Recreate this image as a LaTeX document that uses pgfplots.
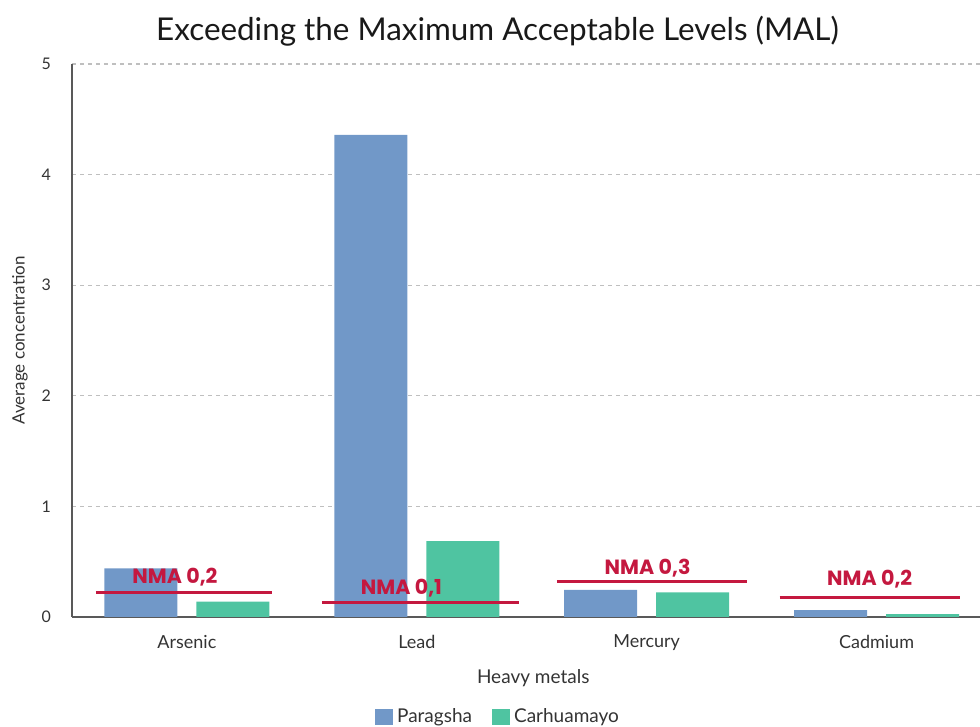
\documentclass[border=0pt]{standalone}
\usepackage{pgfplots}
\pgfplotsset{compat=1.18}
\usepackage{fontspec}
\setmainfont{Lato}
\newfontfamily\nmafont{Poppins}
\definecolor{pblue}{HTML}{7198C8}
\definecolor{cteal}{HTML}{4FC4A1}
\definecolor{nred}{HTML}{C4183F}
\begin{document}
\begin{tikzpicture}
\path[use as bounding box] (-36pt,-55pt) rectangle (454pt,308.5pt);
\begin{axis}[
  at={(0,0)}, anchor=south west,
  scale only axis, width=454pt, height=276.5pt,
  xmin=-0.5, xmax=3.45, ymin=0, ymax=5,
  xtick={0,1,2,3}, xticklabels={Arsenic,Lead,Mercury,Cadmium},
  ytick={0,1,2,3,4,5},
  axis x line*=bottom, axis y line*=left,
  axis line style={-, draw=black!65, line width=0.8pt},
  major tick length=0pt,
  ymajorgrids,
  grid style={draw=black!25, line width=0.6pt, dash pattern=on 2pt off 2pt},
  /pgf/number format/assume math mode=true,
  xticklabel style={font=\fontsize{9}{11}\selectfont, text=black!80, yshift=-5.5pt},
  yticklabel style={font=\fontsize{8}{10}\selectfont, text=black!80, xshift=-7pt},
  xlabel={Heavy metals},
  xlabel style={font=\fontsize{9.5}{11}\selectfont, text=black!80, at={(rel axis cs:0.508,0)}, anchor=center, yshift=-30.5pt},
  ylabel={Average concentration},
  ylabel style={font=\fontsize{8.5}{10}\selectfont, text=black!80, at={(rel axis cs:-0.0573,0.5)}, anchor=center},
  title={Exceeding the Maximum Acceptable Levels (MAL)},
  title style={font=\fontsize{15.7}{18}\selectfont, text=black!90, at={(rel axis cs:0.4686,1)}, anchor=center, yshift=10.5pt},
  legend columns=2,
  legend style={draw=none, fill=none, at={(rel axis cs:0.4703,0)}, anchor=center, yshift=-50pt,
    font=\fontsize{9.5}{11}\selectfont, text=black!80,
    /tikz/every even column/.append style={column sep=8pt}},
  legend image code/.code={\fill[#1] (0pt,-3.8pt) rectangle (9pt,3.8pt);},
]
\addplot[ybar, bar width=36.5pt, bar shift=-23pt, fill=pblue, draw=none]
  coordinates {(0,0.44) (1,4.36) (2,0.245) (3,0.063)};
\addlegendentry{Paragsha}
\addplot[ybar, bar width=36.5pt, bar shift=23pt, fill=cteal, draw=none]
  coordinates {(0,0.14) (1,0.685) (2,0.223) (3,0.025)};
\addlegendentry{Carhuamayo}
\addplot[sharp plot, nred, line width=1.5pt, forget plot] coordinates {(-0.396,0.22) (0.37,0.22)};
\addplot[sharp plot, nred, line width=1.5pt, forget plot] coordinates {(0.587,0.127) (1.443,0.127)};
\addplot[sharp plot, nred, line width=1.5pt, forget plot] coordinates {(1.609,0.325) (2.435,0.325)};
\addplot[sharp plot, nred, line width=1.5pt, forget plot] coordinates {(2.578,0.178) (3.365,0.178)};
\node[text=nred, font=\nmafont\bfseries\fontsize{10.3}{12}\selectfont] at (axis cs:-0.052,0.36) {NMA 0,2};
\node[text=nred, font=\nmafont\bfseries\fontsize{10.3}{12}\selectfont] at (axis cs:0.933,0.262) {NMA 0,1};
\node[text=nred, font=\nmafont\bfseries\fontsize{10.3}{12}\selectfont] at (axis cs:2.004,0.443) {NMA 0,3};
\node[text=nred, font=\nmafont\bfseries\fontsize{10.3}{12}\selectfont] at (axis cs:2.97,0.343) {NMA 0,2};
\end{axis}
\end{tikzpicture}
\end{document}
